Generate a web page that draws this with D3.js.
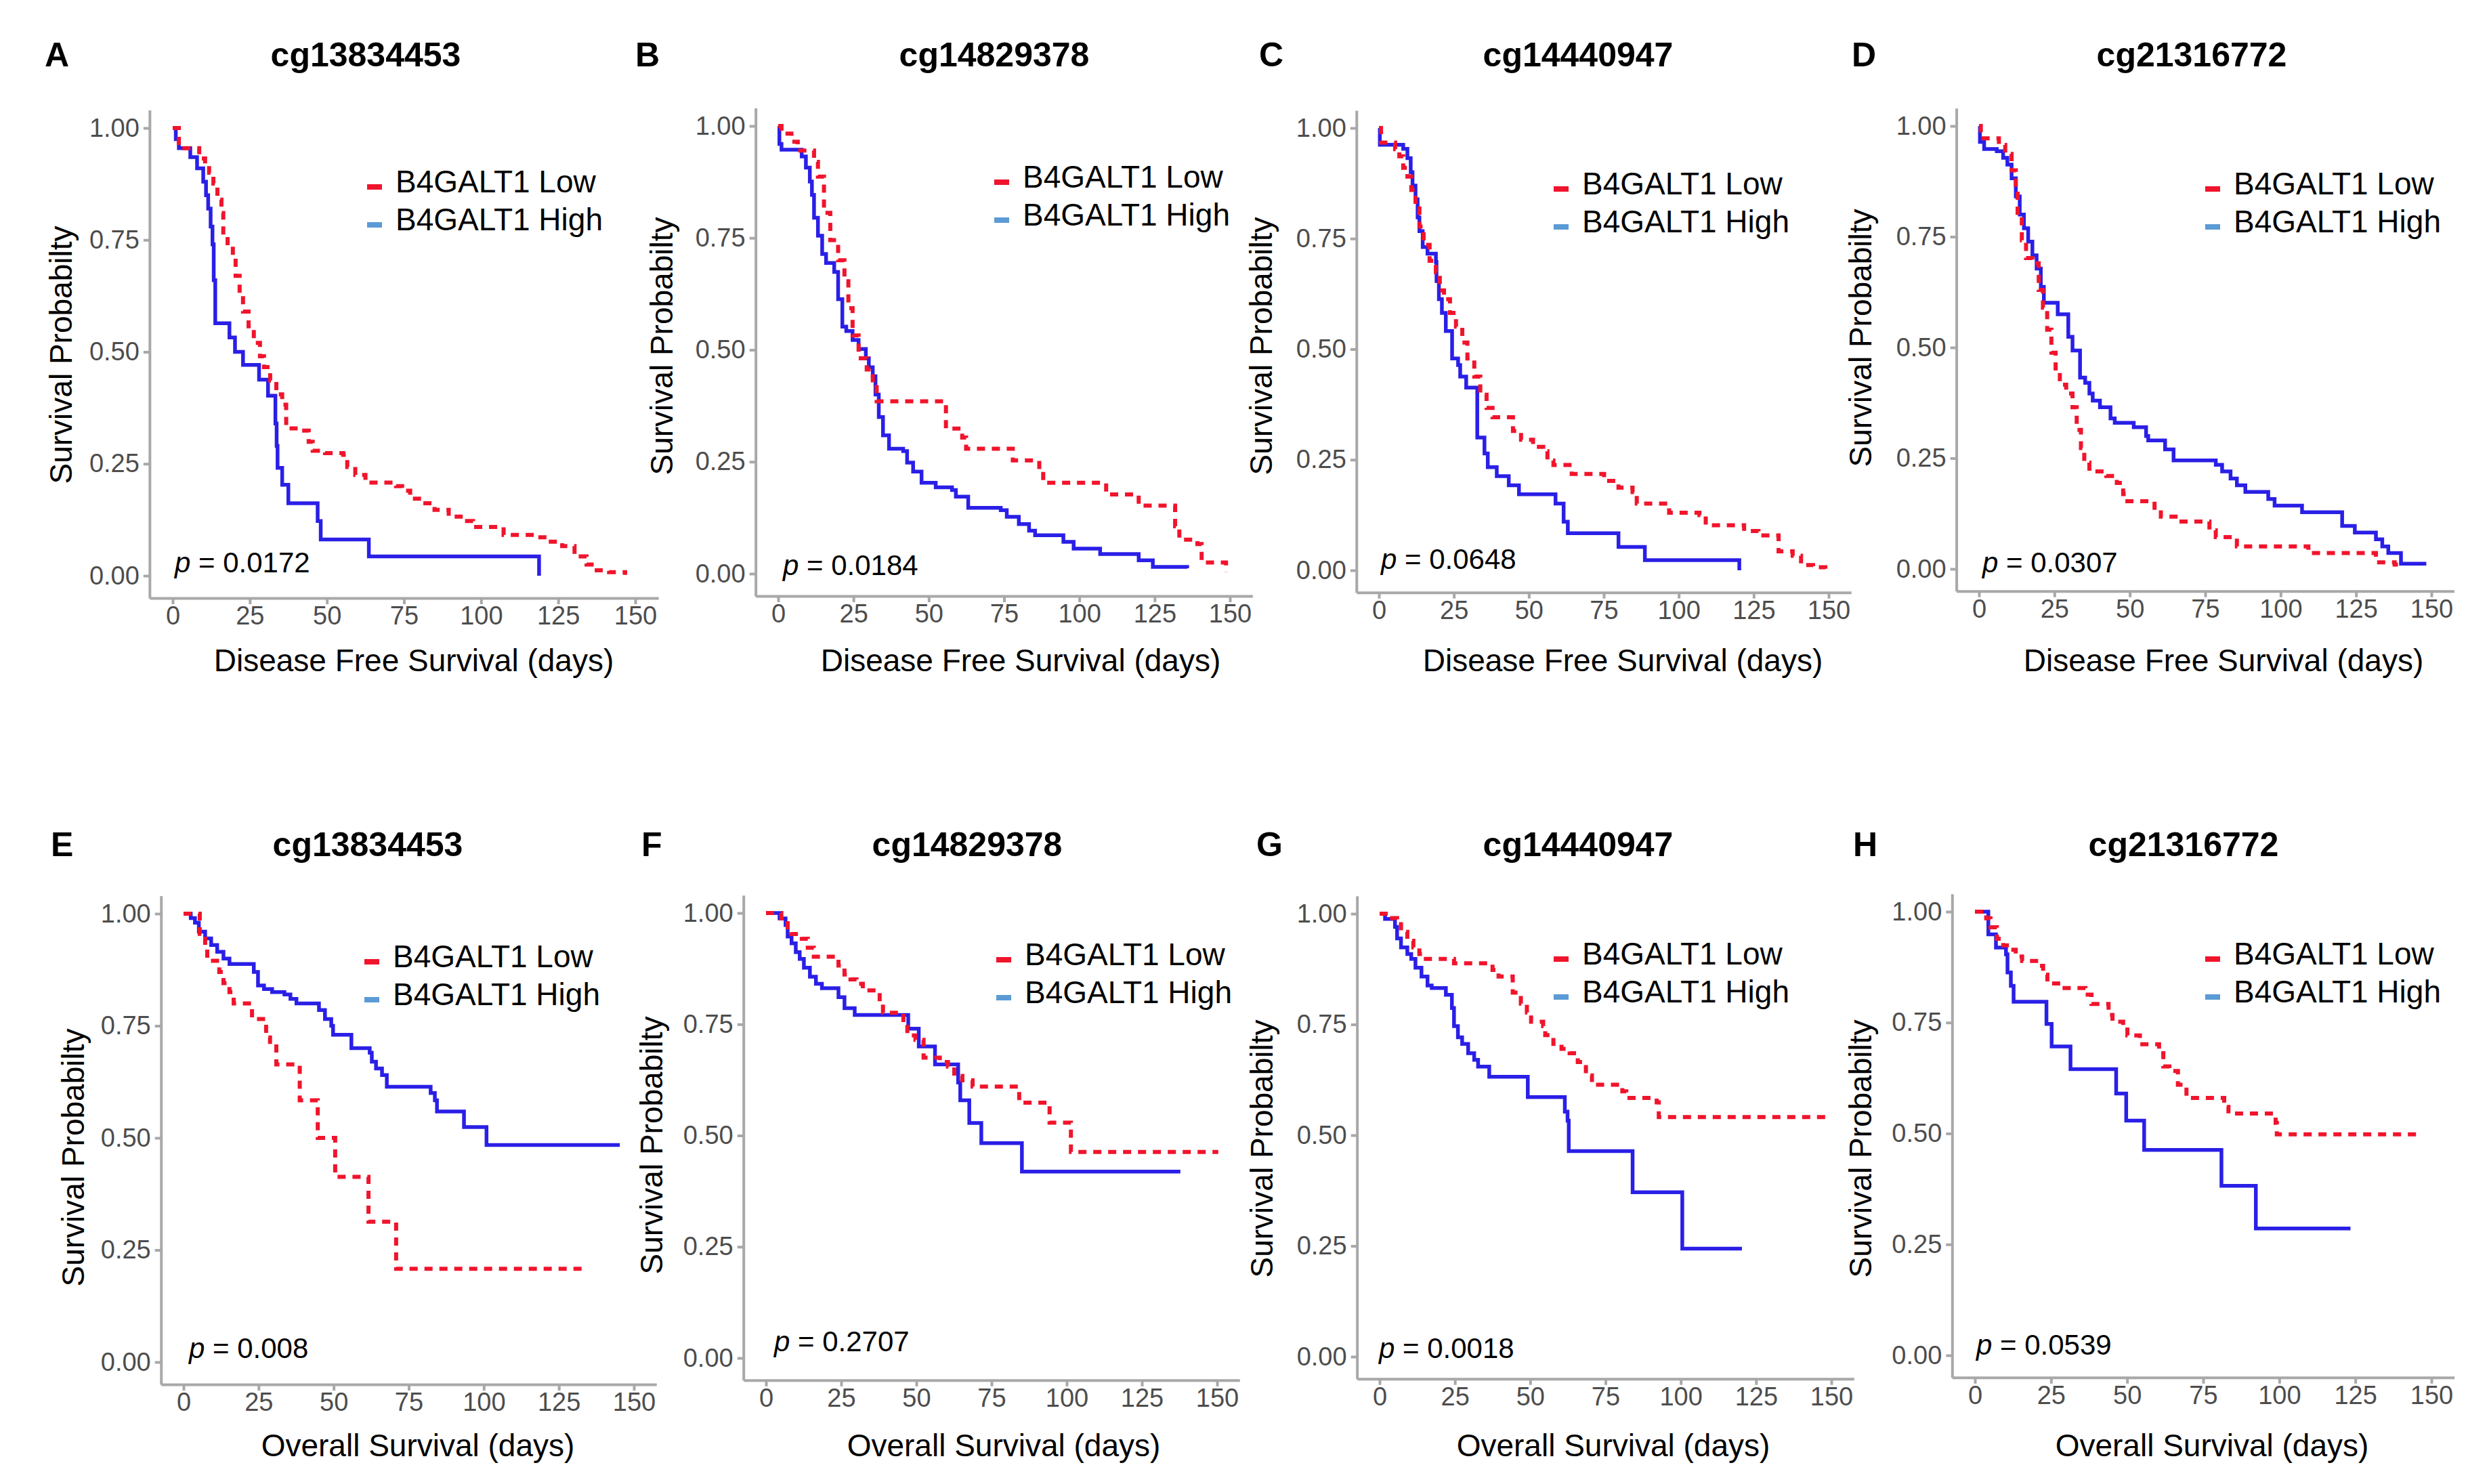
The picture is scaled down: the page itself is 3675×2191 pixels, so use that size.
<!DOCTYPE html>
<html>
<head>
<meta charset="utf-8">
<script src="https://cdn.jsdelivr.net/npm/d3@7"></script>
<style>
  body { margin: 0; background: #fff; }
  svg { display: block; }
</style>
</head>
<body>
<svg id="fig" width="3675" height="2191"></svg>
<script>
// dados das curvas (dias, probabilidade de sobrevida)
var probes = ["cg13834453", "cg14829378", "cg14440947", "cg21316772",
              "cg13834453", "cg14829378", "cg14440947", "cg21316772"];
var letters = ["A", "B", "C", "D", "E", "F", "G", "H"];
var pValues = ["0.0172", "0.0184", "0.0648", "0.0307", "0.008", "0.2707", "0.0018", "0.0539"];
var xTitles = ["Disease Free Survival (days)", "Disease Free Survival (days)",
               "Disease Free Survival (days)", "Disease Free Survival (days)",
               "Overall Survival (days)", "Overall Survival (days)",
               "Overall Survival (days)", "Overall Survival (days)"];
var groups = ["B4GALT1 Low", "B4GALT1 High"];
var xTicks = [0, 25, 50, 75, 100, 125, 150];
var yTicks = [0, 0.25, 0.5, 0.75, 1];

var lowA = [[0,1],[2.0,0.955],[8.6,0.932],[10.5,0.92],[11.8,0.90],[13.2,0.876],[14.5,0.84],[15.8,0.81],[16.4,0.76],[17.8,0.735],[19.5,0.71],[20.4,0.67],[21.7,0.63],[22.8,0.59],[24.6,0.557],[26.3,0.52],[28.3,0.49],[29.6,0.466],[31.6,0.436],[33.6,0.405],[35.5,0.382],[36.8,0.329],[40.8,0.324],[44.1,0.299],[45.4,0.279],[49.4,0.274],[55.3,0.27],[56.6,0.243],[59.2,0.225],[62.5,0.208],[72.4,0.2],[74.4,0.19],[77,0.172],[80.9,0.162],[84.9,0.147],[89.5,0.132],[94.1,0.122],[97.4,0.109],[107.3,0.091],[117.8,0.086],[121.7,0.076],[126.3,0.066],[130.3,0.043],[134.2,0.025],[137.5,0.012],[141.5,0.008],[146.7,0.002]];
var highA = [[0,1],[1.0,0.975],[2.0,0.955],[5.7,0.935],[7.9,0.91],[9.9,0.88],[10.8,0.85],[11.5,0.82],[12.3,0.78],[12.9,0.74],[13.3,0.66],[13.8,0.564],[18.4,0.532],[20.2,0.50],[22.8,0.471],[28.0,0.438],[30.9,0.402],[33.3,0.34],[33.7,0.29],[34.0,0.241],[35.5,0.203],[37.5,0.162],[47.0,0.122],[48.0,0.081],[63.6,0.043],[118.8,0.043],[118.8,0]];

var lowB = [[0,1],[1.1,0.983],[4.4,0.965],[6.5,0.945],[11.9,0.92],[13.2,0.887],[15.2,0.806],[17.3,0.745],[19.9,0.70],[22.0,0.653],[23.3,0.593],[24.7,0.532],[26.7,0.481],[29.4,0.456],[31.4,0.426],[32.7,0.385],[55.7,0.324],[61.1,0.304],[62.4,0.279],[77.9,0.253],[86.7,0.228],[88.0,0.203],[108.9,0.177],[119.7,0.152],[131.8,0.106],[133.2,0.076],[139.2,0.066],[140.6,0.025],[148.7,0.003]];
var highB = [[0,1],[0.4,0.96],[1.1,0.947],[7.8,0.932],[9.2,0.907],[10.5,0.876],[11.2,0.846],[11.9,0.795],[13.2,0.755],[14.6,0.714],[15.9,0.694],[18.6,0.674],[19.9,0.613],[21.3,0.552],[22.6,0.542],[24.7,0.522],[26.7,0.502],[29.1,0.481],[30.1,0.461],[31.4,0.441],[32.3,0.40],[33.4,0.35],[34.8,0.309],[36.8,0.279],[41.5,0.274],[42.8,0.248],[44.8,0.228],[47.6,0.203],[52.3,0.193],[57.7,0.187],[59,0.172],[63.1,0.147],[73.9,0.142],[75.9,0.127],[79.9,0.111],[83.3,0.096],[85.3,0.086],[94.7,0.071],[98.1,0.056],[106.9,0.044],[119.7,0.030],[124.4,0.015],[135.8,0.012]];

var lowC = [[0,1],[0.7,0.967],[5.4,0.952],[6.8,0.936],[8.1,0.91],[9.5,0.89],[10.8,0.86],[12.2,0.818],[13.5,0.777],[14.9,0.736],[16.9,0.70],[19.0,0.674],[20.3,0.633],[21.7,0.613],[23.7,0.582],[25.7,0.551],[27.8,0.515],[29.5,0.479],[31.8,0.438],[33.8,0.397],[35.9,0.367],[37.9,0.346],[44.7,0.315],[47.4,0.295],[51.4,0.279],[54.8,0.269],[56.2,0.248],[58.2,0.238],[64.3,0.218],[75.1,0.202],[79.9,0.187],[84.6,0.177],[86.0,0.151],[96.8,0.13],[106.9,0.125],[109.0,0.102],[121.8,0.089],[126.6,0.079],[133.3,0.043],[138.0,0.033],[140.8,0.012],[144.8,0.007],[148.9,0.0]];
var highC = [[0,1],[0.3,0.962],[8.1,0.953],[9.5,0.932],[10.6,0.90],[11.2,0.87],[12.2,0.839],[12.9,0.798],[13.5,0.767],[14.6,0.731],[16.2,0.716],[19.0,0.697],[19.2,0.654],[20.0,0.613],[21.0,0.582],[22.3,0.541],[24.4,0.479],[26.4,0.464],[27.1,0.438],[29.1,0.413],[32.8,0.30],[35.2,0.264],[36.3,0.233],[39.3,0.213],[43.3,0.192],[46.7,0.172],[58.9,0.151],[61.6,0.11],[63.0,0.084],[79.9,0.053],[88.7,0.023],[120.2,0.023],[120.2,0]];

var lowD = [[0,1],[0.6,0.972],[6.6,0.957],[8.7,0.937],[10.8,0.90],[12.2,0.855],[12.8,0.804],[14.2,0.742],[15.6,0.702],[17.7,0.69],[19.8,0.63],[21.2,0.59],[22.6,0.54],[24.0,0.488],[25.4,0.447],[26.8,0.416],[28.9,0.396],[31.0,0.365],[32.4,0.314],[33.8,0.273],[34.9,0.24],[36.6,0.22],[42.2,0.21],[45.7,0.194],[47.8,0.169],[49.2,0.153],[58.2,0.133],[60.3,0.118],[65.9,0.107],[76.4,0.087],[78.5,0.072],[85.5,0.051],[109.2,0.036],[131.6,0.015],[137.8,0.01],[139.9,0.01]];
var highD = [[0,1],[0.3,0.964],[1.7,0.948],[5.9,0.943],[8.0,0.928],[9.4,0.913],[10.8,0.882],[12.2,0.841],[13.5,0.80],[14.9,0.769],[16.3,0.739],[17.7,0.708],[19.1,0.678],[20.5,0.637],[21.5,0.601],[26.1,0.575],[29.6,0.524],[31.0,0.493],[33.5,0.432],[35.2,0.42],[36.6,0.396],[37.7,0.38],[40.1,0.365],[43.6,0.34],[45.0,0.33],[51.3,0.32],[55.4,0.30],[56.1,0.29],[61.7,0.27],[64.5,0.245],[78.5,0.235],[80.6,0.22],[83.4,0.204],[85.5,0.189],[88.3,0.174],[95.9,0.158],[98.0,0.143],[107.1,0.128],[120.4,0.097],[124.6,0.082],[131.6,0.067],[133.7,0.051],[135.7,0.036],[139.9,0.012],[148.3,0.012]];

var lowE = [[0,1],[5.4,0.955],[7.2,0.93],[7.9,0.895],[11.9,0.87],[13.3,0.845],[15.3,0.825],[16.7,0.80],[22.8,0.765],[27.5,0.724],[28.8,0.714],[30.9,0.664],[38.7,0.584],[44.7,0.50],[50.5,0.413],[61.6,0.313],[70.8,0.208],[133.1,0.208]];
var highE = [[0,1],[2.4,0.99],[3.8,0.98],[5.1,0.96],[7.2,0.945],[9.2,0.93],[11.2,0.915],[13.3,0.90],[15.3,0.888],[23.4,0.87],[24.8,0.84],[26.8,0.832],[29.5,0.825],[33.6,0.82],[35.6,0.81],[37.6,0.80],[45.1,0.785],[47.1,0.765],[49.2,0.75],[49.8,0.73],[55.9,0.70],[62.0,0.69],[62.7,0.67],[64.1,0.655],[66.1,0.64],[67.7,0.614],[82.3,0.60],[83.7,0.584],[84.4,0.559],[93.4,0.524],[100.9,0.484],[145.3,0.484]];

var lowF = [[0,1],[5.1,0.988],[7.2,0.968],[8.5,0.953],[11.9,0.942],[13.9,0.922],[15.9,0.902],[24.1,0.882],[26.1,0.862],[28.1,0.851],[30.1,0.841],[32.2,0.826],[37.8,0.80],[38.9,0.776],[45.7,0.75],[47.0,0.725],[49.7,0.715],[52.4,0.675],[57.8,0.665],[60.5,0.655],[62.6,0.634],[65.3,0.624],[68.7,0.61],[84.2,0.574],[94.3,0.529],[101.4,0.463],[150.4,0.463]];
var highF = [[0,1],[4.5,0.988],[6.5,0.973],[7.2,0.947],[8.5,0.932],[9.9,0.912],[11.2,0.897],[12.6,0.877],[14.6,0.857],[16.6,0.841],[18.6,0.831],[24.1,0.811],[26.1,0.786],[29.5,0.771],[47.3,0.74],[50.8,0.70],[56.2,0.66],[63.9,0.619],[64.6,0.579],[67.6,0.528],[71.6,0.483],[85.1,0.419],[137.8,0.419]];

var lowG = [[0,1],[3.1,0.99],[5.8,0.982],[7.1,0.959],[9.2,0.939],[11.2,0.924],[13.2,0.909],[14.6,0.898],[24.7,0.888],[37.5,0.873],[39.5,0.858],[44.2,0.822],[46.9,0.797],[48.9,0.777],[50.3,0.756],[54.3,0.746],[55.0,0.726],[57.7,0.706],[60.4,0.695],[63.1,0.685],[65.8,0.665],[68.5,0.635],[70.5,0.614],[80.6,0.599],[81.9,0.584],[92.0,0.574],[92.7,0.541],[148.7,0.541]];
var highG = [[0,1],[1.8,0.988],[5.1,0.97],[5.8,0.944],[7.1,0.924],[9.2,0.909],[10.5,0.898],[11.9,0.878],[13.9,0.858],[15.9,0.838],[17.3,0.832],[22.0,0.817],[24.0,0.787],[24.7,0.746],[26.0,0.721],[27.4,0.706],[29.4,0.685],[31.4,0.67],[32.7,0.655],[36.4,0.632],[49.2,0.586],[61.5,0.553],[62.4,0.533],[62.8,0.464],[84.0,0.371],[100.5,0.244],[120.3,0.244]];

var lowH = [[0,1],[3.7,0.985],[5.1,0.965],[7.2,0.939],[9.3,0.924],[11.3,0.914],[13.4,0.899],[15.5,0.889],[21.0,0.878],[22.4,0.858],[23.8,0.838],[28.6,0.828],[36.3,0.813],[38.3,0.792],[43.9,0.767],[45.2,0.752],[48.7,0.742],[50.1,0.721],[54.2,0.701],[60.5,0.681],[61.9,0.651],[63.9,0.641],[66.7,0.61],[69.5,0.58],[81.9,0.56],[83.3,0.545],[98.8,0.524],[99.2,0.498],[147.0,0.498]];
var highH = [[0,1],[4.4,0.949],[6.9,0.919],[10.2,0.904],[10.7,0.863],[11.8,0.833],[12.7,0.797],[23.5,0.747],[25.2,0.696],[31.4,0.645],[46.4,0.59],[49.7,0.529],[55.6,0.463],[81.0,0.382],[92.3,0.286],[123.4,0.286]];

var lowCurves = [lowA, lowB, lowC, lowD, lowE, lowF, lowG, lowH];
var highCurves = [highA, highB, highC, highD, highE, highF, highG, highH];

// posição de cada painel na página (px)
var layout = [
  {x0: 255,  x150: 938,  y1: 189,  y0: 850,  tx: 540,  lx: 66,   legX: 584,  legY: 268,  pX: 258,  pY: 830,  xt: 611,  ytX: 90,   ytY: 524},
  {x0: 1149, x150: 1816, y1: 186,  y0: 847,  tx: 1468, lx: 938,  legX: 1510, legY: 261,  pX: 1156, pY: 834,  xt: 1507, ytX: 977,  ytY: 511},
  {x0: 2036, x150: 2700, y1: 189,  y0: 842,  tx: 2330, lx: 1859, legX: 2336, legY: 271,  pX: 2039, pY: 825,  xt: 2396, ytX: 1862, ytY: 511},
  {x0: 2922, x150: 3590, y1: 186,  y0: 840,  tx: 3236, lx: 2734, legX: 3298, legY: 271,  pX: 2927, pY: 830,  xt: 3283, ytX: 2747, ytY: 499},
  {x0: 271,  x150: 936,  y1: 1349, y0: 2011, tx: 543,  lx: 75,   legX: 580,  legY: 1412, pX: 279,  pY: 1990, xt: 617,  ytX: 108,  ytY: 1709},
  {x0: 1131, x150: 1797, y1: 1348, y0: 2005, tx: 1428, lx: 947,  legX: 1513, legY: 1409, pX: 1143, pY: 1980, xt: 1482, ytX: 962,  ytY: 1691},
  {x0: 2037, x150: 2704, y1: 1349, y0: 2003, tx: 2330, lx: 1855, legX: 2336, legY: 1408, pX: 2036, pY: 1990, xt: 2382, ytX: 1863, ytY: 1696},
  {x0: 2916, x150: 3590, y1: 1346, y0: 2001, tx: 3224, lx: 2736, legX: 3298, legY: 1408, pX: 2918, pY: 1985, xt: 3266, ytX: 2747, ytY: 1696}
];
var rowTitleY = [80, 1246];
var rowXTitleY = [975, 2134];

var font = "'Liberation Sans', Arial, Helvetica, sans-serif";
var red = "#f0142c", blue = "#2a1fe6", keyBlue = "#5b9bd5", axisGrey = "#a8a8a8";

var svg = d3.select("#fig");

layout.forEach(function (L, i) {
  var row = i < 4 ? 0 : 1;
  var pxDay = (L.x150 - L.x0) / 150;
  var hUnit = L.y0 - L.y1;
  // escalas com a expansão do ggplot
  var x = d3.scaleLinear().domain([-7.5, 157.5])
    .range([L.x0 - 7.5 * pxDay, L.x150 + 7.5 * pxDay]);
  var y = d3.scaleLinear().domain([-0.05, 1.04])
    .range([L.y0 + 0.05 * hUnit, L.y1 - 0.04 * hUnit]);

  var g = svg.append("g");

  var gx = g.append("g")
    .attr("transform", "translate(0," + y(-0.05) + ")")
    .call(d3.axisBottom(x).tickValues(xTicks).tickSize(9).tickSizeOuter(0).tickPadding(3));
  var gy = g.append("g")
    .attr("transform", "translate(" + x(-7.5) + ",0)")
    .call(d3.axisLeft(y).tickValues(yTicks).tickFormat(d3.format(".2f")).tickSize(9).tickSizeOuter(0).tickPadding(6));
  [gx, gy].forEach(function (a) {
    a.attr("font-size", 38).attr("font-family", font);
    a.selectAll("path, line").attr("stroke", axisGrey).attr("stroke-width", 4);
    a.selectAll("text").attr("fill", "#4d4d4d");
  });

  // curvas de Kaplan-Meier
  var line = d3.line()
    .x(function (d) { return x(d[0]); })
    .y(function (d) { return y(d[1]); })
    .curve(d3.curveStepAfter);
  g.append("path").datum(highCurves[i])
    .attr("d", line).attr("fill", "none")
    .attr("stroke", blue).attr("stroke-width", 5.5);
  g.append("path").datum(lowCurves[i])
    .attr("d", line).attr("fill", "none")
    .attr("stroke", red).attr("stroke-width", 6)
    .attr("stroke-dasharray", "12 10");

  // letra e título
  g.append("text").attr("x", L.lx).attr("y", rowTitleY[row]).attr("dy", "0.35em")
    .attr("font-family", font).attr("font-weight", "bold").attr("font-size", 50)
    .text(letters[i]);
  g.append("text").attr("x", L.tx).attr("y", rowTitleY[row]).attr("dy", "0.35em")
    .attr("text-anchor", "middle")
    .attr("font-family", font).attr("font-weight", "bold").attr("font-size", 50)
    .text(probes[i]);

  // títulos dos eixos
  g.append("text").attr("x", L.xt).attr("y", rowXTitleY[row]).attr("dy", "0.35em")
    .attr("text-anchor", "middle").attr("font-family", font).attr("font-size", 46)
    .text(xTitles[i]);
  g.append("text")
    .attr("transform", "translate(" + L.ytX + "," + L.ytY + ") rotate(-90)")
    .attr("dy", "0.35em").attr("text-anchor", "middle")
    .attr("font-family", font).attr("font-size", 46)
    .text("Survival Probabilty");

  // legenda
  var keyColors = [red, keyBlue];
  groups.forEach(function (name, k) {
    var cy = L.legY + k * 56;
    g.append("rect").attr("x", L.legX - 42).attr("y", cy + 4)
      .attr("width", 22).attr("height", 8).attr("fill", keyColors[k]);
    g.append("text").attr("x", L.legX).attr("y", cy).attr("dy", "0.35em")
      .attr("font-family", font).attr("font-size", 46).text(name);
  });

  // valor p
  var pt = g.append("text").attr("x", L.pX).attr("y", L.pY).attr("dy", "0.35em")
    .attr("font-family", font).attr("font-size", 42);
  pt.append("tspan").attr("font-style", "italic").text("p");
  pt.append("tspan").text(" = " + pValues[i]);
});
</script>
</body>
</html>
